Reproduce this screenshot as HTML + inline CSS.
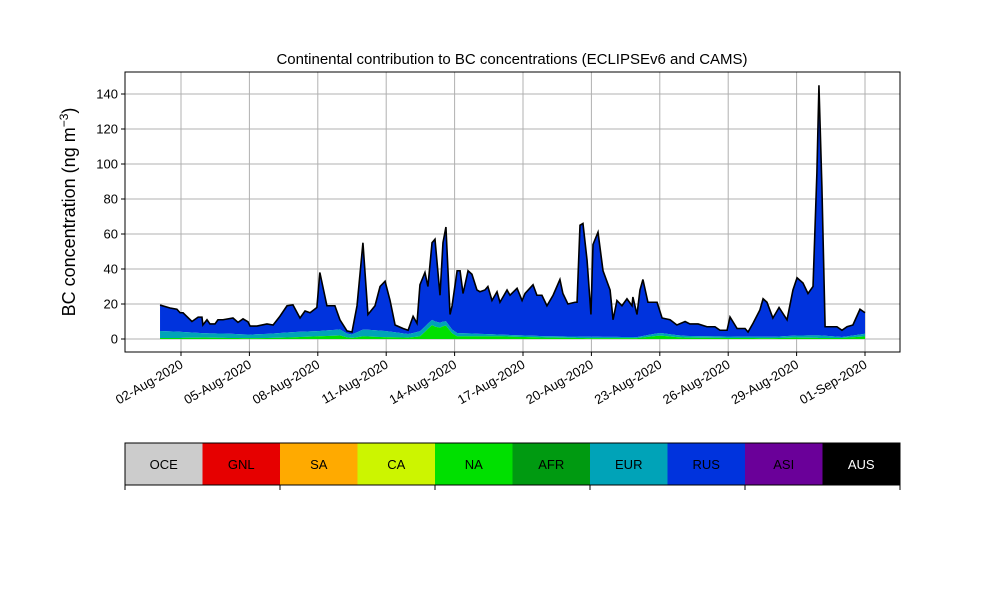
<!DOCTYPE html>
<html><head><meta charset="utf-8"><style>
body{margin:0;background:#fff;}
svg{font-family:"Liberation Sans","DejaVu Sans",sans-serif;}
</style></head><body>
<svg id="chart" width="1000" height="600" xmlns="http://www.w3.org/2000/svg">
<rect width="1000" height="600" fill="#fff"/>
<g id="grid"></g>
<g id="areas"></g>
<g id="axes"></g>
<text x="512" y="64" text-anchor="middle" font-size="15">Continental contribution to BC concentrations (ECLIPSEv6 and CAMS)</text>
<text transform="translate(75,212) rotate(-90)" text-anchor="middle" font-size="18">BC concentration (ng m<tspan dy="-7" font-size="12">−3</tspan><tspan dy="7">)</tspan></text>
<g id="cbar"></g>
</svg>
<script>
const days=[0.08,0.52,0.82,0.96,1.09,1.48,1.75,1.92,1.96,2.14,2.27,2.49,2.62,2.84,3.06,3.28,3.5,3.72,3.94,4.03,4.33,4.77,5.04,5.34,5.65,5.91,6.22,6.44,6.66,6.96,7.09,7.4,7.75,7.97,8.28,8.5,8.72,8.98,9.2,9.51,9.73,9.95,10.17,10.39,10.74,10.96,11.18,11.35,11.48,11.7,11.83,12.01,12.14,12.36,12.49,12.62,12.8,12.89,13.11,13.24,13.37,13.59,13.76,13.98,14.11,14.33,14.46,14.64,14.86,14.99,15.3,15.43,15.74,15.96,16.09,16.44,16.61,16.83,17.05,17.32,17.62,17.75,17.97,18.28,18.37,18.5,18.63,18.81,18.98,19.07,19.29,19.51,19.82,19.95,20.12,20.34,20.56,20.78,20.82,21,21.13,21.26,21.48,21.88,22.1,22.45,22.75,23.11,23.32,23.68,24.07,24.42,24.64,24.95,25.08,25.39,25.74,25.87,26.09,26.39,26.53,26.7,26.96,27.23,27.58,27.84,28.02,28.28,28.5,28.72,28.89,28.98,29.11,29.25,29.77,29.99,30.21,30.47,30.78,31];
const totals=[19.4,17.7,17,15,15,10,12.5,12.5,8,11,8.6,8.6,11,11,11.5,12,9.5,11.5,9.8,7.4,7.4,8.6,8,13,19,19.5,12,16,15,18,38,19,19,11,4.6,4,19,55,14,19,30,33,22,8,6,5,13,9,31,38,30,55,57,25,55,64,14,19,39,39,26,39,37,28,27,28,30,22,27,21,28,25,29,22,26,31,25,25,19,25,34,26,20,21,21,65,66,45,14,54,61,39,28,11,22,19,23,19,24,14,28,34,21,21,12,11,8,10,8.6,8.6,7,7,5,5,12.6,6,6,4,9,16.6,23,21,12,18,11,28,35,32,26,30,95,145,87,7,7,5,7,8,17,15];
const lowDays=[0,1,2,3,4,5,6,7,8,8.4,9,10,11,11.5,12,12.3,12.6,13,14,15,17,19,21,22,23,25,27,28,29,30,31];
const naVals=[0.6,0.6,0.8,0.6,0.5,0.6,1,1.5,2,0.5,1.5,1,0.8,1.5,8,6,8,1.5,1.5,1.5,0.8,0.5,0.5,2,0.8,0.6,0.5,0.8,0.6,0.6,1.5];
const eurVals=[4,3.5,2.5,2.5,2,2.5,3,3,3.5,1.5,4,3.5,2,3,3,3,2.5,2,1.5,1,0.8,0.8,0.6,1.5,1,0.8,0.8,1.2,1.5,0.5,1.5];
const yTicks=[0,20,40,60,80,100,120,140];
const xTickDays=[1,4,7,10,13,16,19,22,25,28,31];
const xTickLabels=["02-Aug-2020","05-Aug-2020","08-Aug-2020","11-Aug-2020","14-Aug-2020","17-Aug-2020","20-Aug-2020","23-Aug-2020","26-Aug-2020","29-Aug-2020","01-Sep-2020"];
const regions=["OCE","GNL","SA","CA","NA","AFR","EUR","RUS","ASI","AUS"];
const regionColors=["#cccccc","#e60000","#ffaa00","#ccf500","#00e000","#009a11","#00a3b8","#0033dd","#6a0099","#000000"];

const NS="http://www.w3.org/2000/svg";
const L=125,R=900,T=72,B=352;
const xs=d=>181+(d-1)*22.8;
const ys=v=>339-v*1.75;
function el(t,a,p){const e=document.createElementNS(NS,t);for(const k in a)e.setAttribute(k,a[k]);p.appendChild(e);return e;}
function interp(xa,ya,x){if(x<=xa[0])return ya[0];for(let i=1;i<xa.length;i++){if(x<=xa[i]){const f=(x-xa[i-1])/(xa[i]-xa[i-1]);return ya[i-1]+f*(ya[i]-ya[i-1]);}}return ya[ya.length-1];}
const grid=document.getElementById('grid'),areas=document.getElementById('areas'),axes=document.getElementById('axes'),cbar=document.getElementById('cbar');
yTicks.forEach(v=>{const g=el('line',{x1:L,x2:R,y1:ys(v),y2:ys(v),stroke:'#b0b0b0','stroke-width':1},grid);


const t=el('line',{x1:L-4,x2:L,y1:ys(v),y2:ys(v),stroke:'#000'},axes);


const tx=el('text',{x:L-7,y:ys(v)+4.5,'text-anchor':'end','font-size':13},axes);tx.textContent=v;

});
xTickDays.forEach((d,i)=>{const x=xs(d);const g=el('line',{x1:x,x2:x,y1:T,y2:B,stroke:'#b0b0b0','stroke-width':1},grid);


const t=el('line',{x1:x,x2:x,y1:B,y2:B+4,stroke:'#000'},axes);


const tx=el('text',{transform:`translate(${x+3},${B+15}) rotate(-30)`,'text-anchor':'end','font-size':13},axes);tx.textContent=xTickLabels[i];

});
const n=Math.min(days.length,totals.length);
const D=days.slice(0,n),Tt=totals.slice(0,n);
const na=D.map(d=>interp(lowDays,naVals,d));
const eur=D.map((d,i)=>Math.min(Tt[i],na[i]+interp(lowDays,eurVals,d)));
function area(top,bot,color,name){let p='M'+D.map((d,i)=>xs(d)+','+ys(top[i])).join('L');for(let i=n-1;i>=0;i--)p+='L'+xs(D[i])+','+ys(bot[i]);p+='Z';const a=el('path',{d:p,fill:color},areas);

}
const zero=D.map(()=>0);
area(Tt,eur,regionColors[7],'area-rus');
area(eur,na,regionColors[6],'area-eur');
area(na,zero,regionColors[4],'area-na');
const line=el('path',{d:'M'+D.map((d,i)=>xs(d)+','+ys(Tt[i])).join('L'),fill:'none',stroke:'#000','stroke-width':1.6},areas);


const fr=el('rect',{x:L,y:T,width:R-L,height:B-T,fill:'none',stroke:'#000','stroke-width':1},axes);


const w=(R-L)/regions.length;
regions.forEach((r,i)=>{const s=el('rect',{x:L+i*w,y:443,width:w+0.5,height:42,fill:regionColors[i]},cbar);


const t=el('text',{x:L+i*w+w/2,y:469,'text-anchor':'middle','font-size':13,fill:i===9?'#fff':'#000'},cbar);t.textContent=r;

});
const cf=el('rect',{x:L,y:443,width:R-L,height:42,fill:'none',stroke:'#000'},cbar);


[0,2,4,6,8,10].forEach(k=>{const t=el('line',{x1:L+k*w,x2:L+k*w,y1:485,y2:490,stroke:'#000'},cbar);

});
</script>
</body></html>
